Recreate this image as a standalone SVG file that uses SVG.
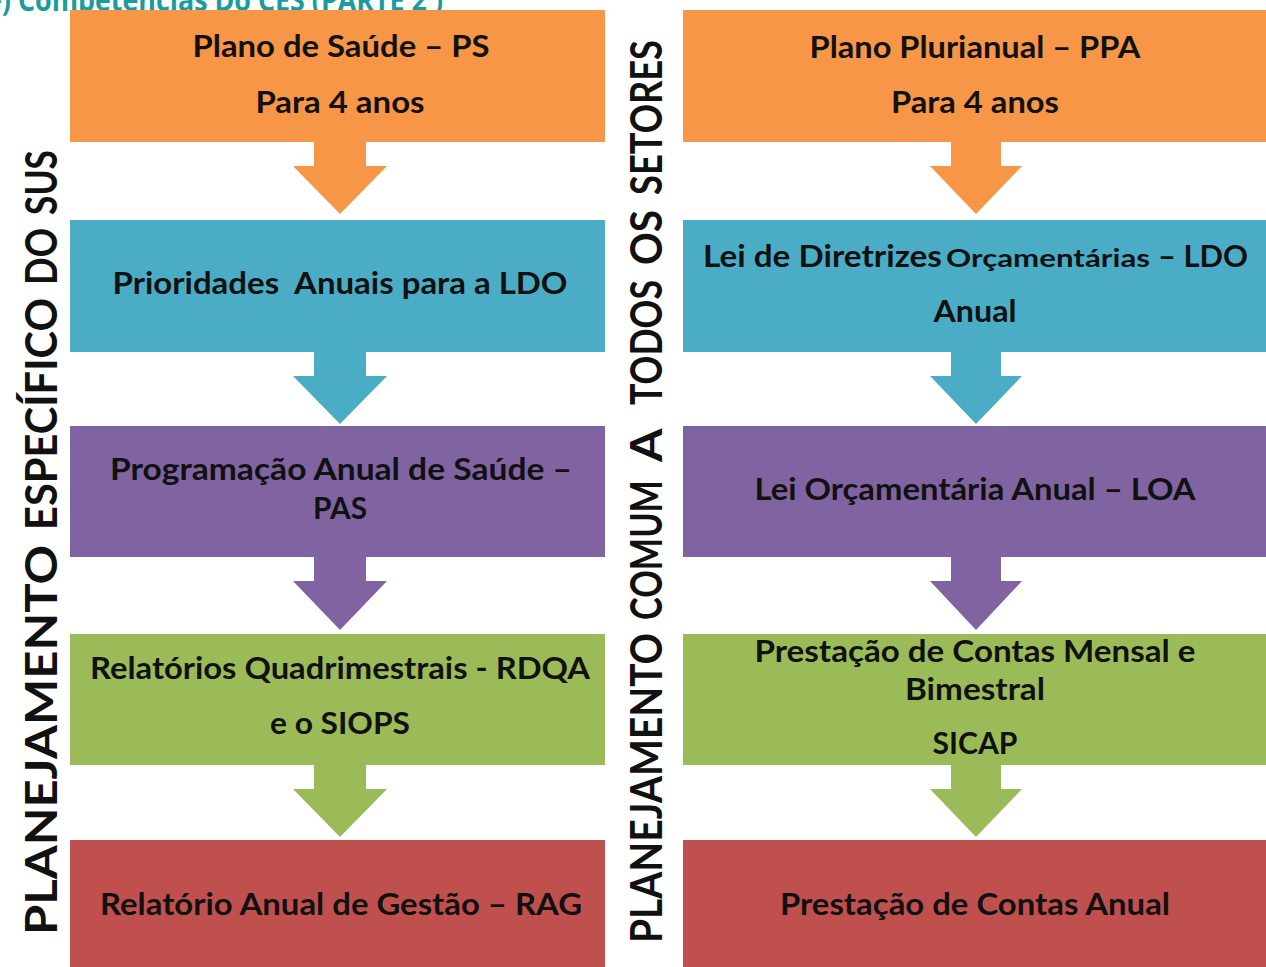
<svg xmlns="http://www.w3.org/2000/svg" width="1266" height="967" viewBox="0 0 1266 967">
<style>
.o{fill:#F79646}.b{fill:#4BACC6}.p{fill:#8064A2}.g{fill:#9BBB59}.r{fill:#C0504D}
.t{font-family:Lato,"Open Sans","Liberation Sans",sans-serif;font-weight:bold;font-size:30px;fill:#111;text-anchor:middle}
.s{font-size:25px;text-anchor:start}
.st{text-anchor:start}
.v{font-family:Lato,"Open Sans","Liberation Sans",sans-serif;font-weight:bold;font-size:44px;fill:#111}
.title{font-family:"Open Sans",Lato,"Liberation Sans",sans-serif;font-weight:bold;font-size:30px;fill:#1A9BA0}
</style>
<rect width="1266" height="967" fill="#fff"/>
<text class="title" x="-14" y="11" textLength="457" lengthAdjust="spacingAndGlyphs">e) Competências Do CES (PARTE 2 )</text>

<g id="connectors">
<polygon class="o" points="314,140 366,140 366,166 387,166 340,214 293,166 314,166"/>
<polygon class="b" points="314,350 366,350 366,376 387,376 340,424 293,376 314,376"/>
<polygon class="p" points="314,555 366,555 366,581 387,581 340,630 293,581 314,581"/>
<polygon class="g" points="314,763 366,763 366,789 387,789 340,837 293,789 314,789"/>
<polygon class="o" points="951,140 1001,140 1001,166 1022,166 976,214 930,166 951,166"/>
<polygon class="b" points="951,350 1001,350 1001,376 1022,376 976,424 930,376 951,376"/>
<polygon class="p" points="951,555 1001,555 1001,581 1022,581 976,630 930,581 951,581"/>
<polygon class="g" points="951,763 1001,763 1001,789 1022,789 976,837 930,789 951,789"/>
</g>

<g id="ps"><rect class="o" x="70" y="10" width="535" height="132"/>
<text class="t" x="341" y="57" textLength="297" lengthAdjust="spacingAndGlyphs">Plano de Saúde – PS</text>
<text class="t" x="340" y="113" textLength="169" lengthAdjust="spacingAndGlyphs">Para 4 anos</text></g>
<g id="prioridades"><rect class="b" x="70" y="220" width="535" height="132"/>
<text class="t" x="340" y="294" textLength="455" lengthAdjust="spacingAndGlyphs" xml:space="preserve">Prioridades  Anuais para a LDO</text></g>
<g id="pas"><rect class="p" x="70" y="426" width="535" height="131"/>
<text class="t" x="341" y="480" textLength="462" lengthAdjust="spacingAndGlyphs">Programação Anual de Saúde –</text>
<text class="t" x="340" y="519" textLength="54" lengthAdjust="spacingAndGlyphs">PAS</text></g>
<g id="rdqa"><rect class="g" x="70" y="634" width="535" height="131"/>
<text class="t" x="340" y="679" textLength="500" lengthAdjust="spacingAndGlyphs">Relatórios Quadrimestrais - RDQA</text>
<text class="t" x="340" y="734" textLength="140" lengthAdjust="spacingAndGlyphs">e o SIOPS</text></g>
<g id="rag"><rect class="r" x="70" y="840" width="535" height="127"/>
<text class="t" x="341" y="915" textLength="482" lengthAdjust="spacingAndGlyphs">Relatório Anual de Gestão – RAG</text></g>

<g id="ppa"><rect class="o" x="683" y="10" width="583" height="132"/>
<text class="t" x="975" y="58" textLength="331" lengthAdjust="spacingAndGlyphs">Plano Plurianual – PPA</text>
<text class="t" x="975" y="113" textLength="168" lengthAdjust="spacingAndGlyphs">Para 4 anos</text></g>
<g id="ldo"><rect class="b" x="683" y="220" width="583" height="132"/>
<text class="t st" x="703" y="267" textLength="239" lengthAdjust="spacingAndGlyphs">Lei de Diretrizes</text>
<text class="t s" x="946" y="267" textLength="204" lengthAdjust="spacingAndGlyphs">Orçamentárias</text>
<text class="t st" x="1158" y="267" textLength="90" lengthAdjust="spacingAndGlyphs">– LDO</text>
<text class="t" x="975" y="322" textLength="83" lengthAdjust="spacingAndGlyphs">Anual</text></g>
<g id="loa"><rect class="p" x="683" y="426" width="583" height="131"/>
<text class="t" x="975" y="500" textLength="441" lengthAdjust="spacingAndGlyphs">Lei Orçamentária Anual – LOA</text></g>
<g id="mensal"><rect class="g" x="683" y="634" width="583" height="131"/>
<text class="t" x="975" y="662" textLength="441" lengthAdjust="spacingAndGlyphs">Prestação de Contas Mensal e</text>
<text class="t" x="975" y="700" textLength="140" lengthAdjust="spacingAndGlyphs">Bimestral</text>
<text class="t" x="975" y="754" textLength="85" lengthAdjust="spacingAndGlyphs">SICAP</text></g>
<g id="anual"><rect class="r" x="683" y="840" width="583" height="127"/>
<text class="t" x="975" y="915" textLength="390" lengthAdjust="spacingAndGlyphs">Prestação de Contas Anual</text></g>

<g id="label-left"><text class="v" transform="translate(57,967) rotate(-90)"><tspan x="32" textLength="390" lengthAdjust="spacingAndGlyphs">PLANEJAMENTO</tspan> <tspan x="437" textLength="232" lengthAdjust="spacingAndGlyphs">ESPECÍFICO</tspan> <tspan x="682" textLength="57" lengthAdjust="spacingAndGlyphs">DO</tspan> <tspan x="752" textLength="65" lengthAdjust="spacingAndGlyphs">SUS</tspan></text></g>
<g id="label-right"><text class="v" transform="translate(662,967) rotate(-90)"><tspan x="24" textLength="310" lengthAdjust="spacingAndGlyphs">PLANEJAMENTO</tspan> <tspan x="347" textLength="140" lengthAdjust="spacingAndGlyphs">COMUM</tspan> <tspan x="505" textLength="32" lengthAdjust="spacingAndGlyphs">A</tspan> <tspan x="562" textLength="125" lengthAdjust="spacingAndGlyphs">TODOS</tspan> <tspan x="702" textLength="55" lengthAdjust="spacingAndGlyphs">OS</tspan> <tspan x="772" textLength="155" lengthAdjust="spacingAndGlyphs">SETORES</tspan></text></g>
</svg>
